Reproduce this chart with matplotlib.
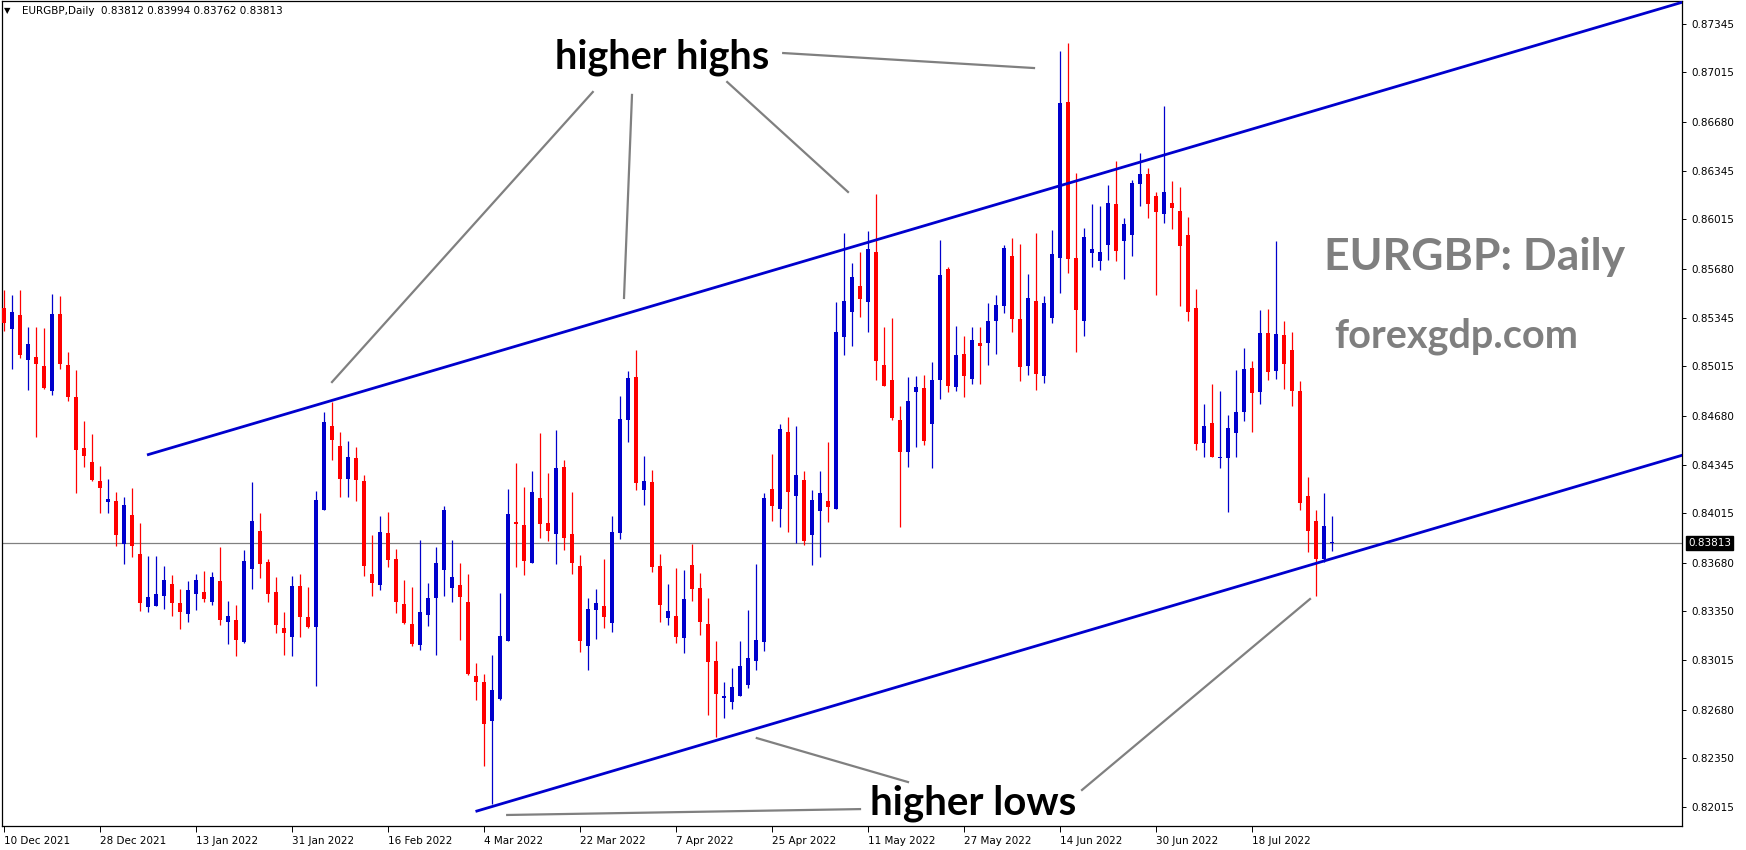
import matplotlib
matplotlib.use("Agg")
import matplotlib.pyplot as plt
import matplotlib.transforms as mtransforms
import numpy as np

# ---------------- data (EURGBP daily) ----------------
opens = [0.85409, 0.85266, 0.85364, 0.85060, 0.85078, 0.85017, 0.84849, 0.85371, 0.85024, 0.84806,
         0.84459, 0.84364, 0.84234, 0.84094, 0.84098, 0.83803, 0.84003, 0.83738, 0.83379, 0.83386,
         0.83454, 0.83534, 0.83404, 0.83332, 0.83468, 0.83479, 0.83413, 0.83554, 0.83277, 0.83289,
         0.83139, 0.83638, 0.83895, 0.83684, 0.83480, 0.83235, 0.83176, 0.83520, 0.83309, 0.83244,
         0.84040, 0.84609, 0.84473, 0.84251, 0.84391, 0.84235, 0.83602, 0.83529, 0.83881, 0.83704,
         0.83398, 0.83262, 0.83121, 0.83325, 0.83441, 0.83632, 0.83509, 0.83527, 0.83411, 0.82908,
         0.82867, 0.82604, 0.82754, 0.83148, 0.83956, 0.83935, 0.83679, 0.84119, 0.83949, 0.83876,
         0.84330, 0.83874, 0.83656, 0.83114, 0.83359, 0.83384, 0.83271, 0.83883, 0.84652, 0.84942,
         0.84176, 0.84228, 0.83656, 0.83305, 0.83318, 0.83169, 0.83663, 0.83508, 0.83263, 0.83010,
         0.82757, 0.82733, 0.82769, 0.82850, 0.83012, 0.83141, 0.84181, 0.84047, 0.84567, 0.84135,
         0.84242, 0.83870, 0.84033, 0.84098, 0.84047, 0.85216, 0.85386, 0.85561, 0.85454, 0.85792,
         0.85024, 0.84922, 0.84650, 0.84434, 0.84842, 0.84867, 0.84624, 0.84924, 0.85677, 0.84876,
         0.85098, 0.84931, 0.85173, 0.85176, 0.85325, 0.85427, 0.85765, 0.85337, 0.85019, 0.85459,
         0.84951, 0.85346, 0.85754, 0.86813, 0.85752, 0.85325, 0.85788, 0.85733, 0.85842, 0.86119,
         0.85869, 0.85910, 0.86257, 0.86323, 0.86174, 0.86053, 0.86126, 0.86071, 0.85908, 0.85411,
         0.84495, 0.84629, 0.84393, 0.84393, 0.84563, 0.84706, 0.85003, 0.84842, 0.85241, 0.84985,
         0.85228, 0.85126, 0.84849, 0.84135, 0.83965, 0.83706, 0.83812]
highs = [0.85534, 0.85500, 0.85534, 0.85282, 0.85282, 0.85273, 0.85507, 0.85493, 0.85112, 0.84990,
         0.84643, 0.84554, 0.84336, 0.84248, 0.84160, 0.84123, 0.84187, 0.83949, 0.83726, 0.83726,
         0.83656, 0.83595, 0.83500, 0.83554, 0.83602, 0.83622, 0.83615, 0.83788, 0.83418, 0.83391,
         0.83765, 0.84228, 0.84017, 0.83704, 0.83582, 0.83344, 0.83588, 0.83602, 0.83514, 0.84167,
         0.84704, 0.84772, 0.84568, 0.84507, 0.84466, 0.84276, 0.83867, 0.83997, 0.84024, 0.83772,
         0.83561, 0.83514, 0.83833, 0.83541, 0.83786, 0.84065, 0.83833, 0.83677, 0.83602, 0.82996,
         0.82921, 0.83051, 0.83473, 0.84180, 0.84357, 0.84194, 0.84303, 0.84561, 0.84289, 0.84582,
         0.84378, 0.84160, 0.83731, 0.83439, 0.83500, 0.83704, 0.83997, 0.84813, 0.84983, 0.85126,
         0.84405, 0.84309, 0.83738, 0.83534, 0.83643, 0.83629, 0.83806, 0.83608, 0.83442, 0.83146,
         0.82867, 0.82964, 0.83146, 0.83357, 0.83671, 0.84154, 0.84419, 0.84623, 0.84669, 0.84609,
         0.84302, 0.84174, 0.84302, 0.84499, 0.85452, 0.85923, 0.85719, 0.85792, 0.85935, 0.86188,
         0.85281, 0.85345, 0.84745, 0.84941, 0.84949, 0.84955, 0.85044, 0.85874, 0.85690, 0.85289,
         0.85221, 0.85282, 0.85282, 0.85445, 0.85500, 0.85840, 0.85888, 0.85847, 0.85643, 0.85922,
         0.85493, 0.85942, 0.87160, 0.87214, 0.86330, 0.85956, 0.86119, 0.86105, 0.86248, 0.86411,
         0.86024, 0.86282, 0.86466, 0.86364, 0.86201, 0.86786, 0.86276, 0.86235, 0.86031, 0.85541,
         0.84758, 0.84894, 0.84849, 0.84683, 0.84990, 0.85139, 0.85051, 0.85398, 0.85407, 0.85870,
         0.85323, 0.85248, 0.84917, 0.84264, 0.84039, 0.84155, 0.83994]
lows = [0.85257, 0.84996, 0.85074, 0.84856, 0.84536, 0.84863, 0.84822, 0.84999, 0.84781, 0.84155,
        0.84332, 0.84237, 0.84019, 0.84019, 0.83794, 0.83672, 0.83720, 0.83352, 0.83345, 0.83386,
        0.83363, 0.83318, 0.83230, 0.83277, 0.83359, 0.83413, 0.83393, 0.83257, 0.83128, 0.83046,
        0.83135, 0.83500, 0.83575, 0.83414, 0.83203, 0.83051, 0.83044, 0.83176, 0.83237, 0.82842,
        0.84040, 0.84380, 0.84128, 0.84128, 0.84101, 0.83591, 0.83454, 0.83495, 0.83652, 0.83339,
        0.83264, 0.83114, 0.83087, 0.83250, 0.83053, 0.83454, 0.83414, 0.83155, 0.82917, 0.82747,
        0.82298, 0.82038, 0.82747, 0.83148, 0.83650, 0.83597, 0.83679, 0.83849, 0.83829, 0.83672,
        0.83767, 0.83604, 0.83073, 0.82951, 0.83162, 0.83237, 0.83210, 0.83842, 0.84502, 0.84176,
        0.84074, 0.83618, 0.83278, 0.83257, 0.83135, 0.83067, 0.83420, 0.83190, 0.82640, 0.82493,
        0.82623, 0.82684, 0.82769, 0.82830, 0.82952, 0.83078, 0.83965, 0.83923, 0.83887, 0.83814,
        0.83797, 0.83666, 0.83717, 0.83957, 0.84047, 0.85094, 0.85155, 0.85352, 0.85247, 0.84924,
        0.84883, 0.84652, 0.83923, 0.84332, 0.84468, 0.84481, 0.84325, 0.84794, 0.84842, 0.84849,
        0.84808, 0.84897, 0.84897, 0.85026, 0.85101, 0.85380, 0.85250, 0.84917, 0.84958, 0.84856,
        0.84903, 0.85312, 0.85516, 0.85652, 0.85114, 0.85223, 0.85693, 0.85672, 0.85740, 0.85733,
        0.85611, 0.85767, 0.86108, 0.86026, 0.85502, 0.85992, 0.85951, 0.85427, 0.85325, 0.84448,
        0.84400, 0.84400, 0.84325, 0.84026, 0.84400, 0.84645, 0.84570, 0.84761, 0.84924, 0.84931,
        0.84863, 0.84747, 0.84039, 0.83754, 0.83454, 0.83686, 0.83762]
closes = [0.85307, 0.85382, 0.85092, 0.85167, 0.85033, 0.84869, 0.85371, 0.85033, 0.84808, 0.84448,
          0.84407, 0.84243, 0.84189, 0.84112, 0.83869, 0.84071, 0.83794, 0.83407, 0.83445, 0.83466,
          0.83561, 0.83407, 0.83345, 0.83493, 0.83561, 0.83434, 0.83581, 0.83291, 0.83316, 0.83155,
          0.83690, 0.83963, 0.83672, 0.83468, 0.83257, 0.83203, 0.83520, 0.83312, 0.83244, 0.84106,
          0.84636, 0.84514, 0.84251, 0.84398, 0.84244, 0.83659, 0.83543, 0.83888, 0.83700, 0.83414,
          0.83271, 0.83128, 0.83344, 0.83439, 0.83677, 0.84037, 0.83582, 0.83448, 0.82924, 0.82869,
          0.82584, 0.82813, 0.83180, 0.84010, 0.83944, 0.83693, 0.84160, 0.83944, 0.83897, 0.84323,
          0.83849, 0.83679, 0.83148, 0.83364, 0.83405, 0.83312, 0.83888, 0.84656, 0.84935, 0.84223,
          0.84235, 0.83652, 0.83393, 0.83350, 0.83175, 0.83432, 0.83502, 0.83277, 0.83005, 0.82789,
          0.82774, 0.82835, 0.82976, 0.83032, 0.83153, 0.84118, 0.84064, 0.84589, 0.84157, 0.84276,
          0.83829, 0.84106, 0.84154, 0.84059, 0.85247, 0.85459, 0.85622, 0.85476, 0.85814, 0.85053,
          0.84883, 0.84664, 0.84429, 0.84779, 0.84871, 0.84509, 0.84921, 0.85636, 0.84883, 0.85092,
          0.84951, 0.85194, 0.85155, 0.85323, 0.85432, 0.85820, 0.85339, 0.85012, 0.85479, 0.84965,
          0.85445, 0.85779, 0.86806, 0.85747, 0.85400, 0.85894, 0.85813, 0.85792, 0.86126, 0.85801,
          0.85983, 0.86262, 0.86323, 0.86121, 0.86067, 0.86201, 0.86094, 0.85836, 0.85387, 0.84488,
          0.84609, 0.84400, 0.84400, 0.84595, 0.84704, 0.84996, 0.84835, 0.85241, 0.84978, 0.85235,
          0.85033, 0.84849, 0.84087, 0.83896, 0.83706, 0.83928, 0.83813]

date_labels = ["10 Dec 2021", "28 Dec 2021", "13 Jan 2022", "31 Jan 2022", "16 Feb 2022",
               "4 Mar 2022", "22 Mar 2022", "7 Apr 2022", "25 Apr 2022", "11 May 2022",
               "27 May 2022", "14 Jun 2022", "30 Jun 2022", "18 Jul 2022"]
date_label_bars = [0, 12, 24, 36, 48, 60, 72, 84, 96, 108, 120, 132, 144, 156]

price_ticks = [0.87345, 0.87015, 0.86680, 0.86345, 0.86015, 0.85680, 0.85345, 0.85015, 0.84680,
               0.84345, 0.84015, 0.83680, 0.83350, 0.83015, 0.82680, 0.82350, 0.82015]
price_tick_labels = ["0.87345", "0.87015", "0.86680", "0.86345", "0.86015", "0.85680", "0.85345",
                     "0.85015", "0.84680", "0.84345", "0.84015", "0.83680", "0.83350", "0.83015",
                     "0.82680", "0.82350", "0.82015"]

last_price = 0.83813
header = "EURGBP,Daily  0.83812 0.83994 0.83762 0.83813"

# trend channel anchors (bar index, price)
upper_channel = [(17.875, 0.84412), (142.625, 0.86414)]
lower_channel = [(58.94, 0.81987), (168.25, 0.83743)]

# ---------------- figure ----------------
W, H = 1746, 850
fig = plt.figure(figsize=(W / 100, H / 100), dpi=100)
fig.patch.set_facecolor("white")
ax = fig.add_axes([2 / W, 24 / H, 1680 / W, 825 / H])
ax.set_facecolor("white")

o = np.array(opens); h = np.array(highs); l = np.array(lows); c = np.array(closes)
x = np.arange(len(o))
bull = c >= o
cols = np.where(bull, "#0000CC", "#FF0000")

px = 1 / 14700.0
ax.vlines(x, l, h, colors=cols, linewidth=0.9, zorder=3)
bottoms = np.minimum(o, c)
heights = np.maximum(np.abs(c - o), px)
ax.bar(x, heights, bottom=bottoms, width=0.62, color=cols, edgecolor="none", zorder=4)

ax.set_xlim(-0.25, 209.75)
ax.set_ylim(0.81888, 0.87500)

# current price line
ax.axhline(last_price, color="#808080", linewidth=0.9, zorder=2)

# channel lines (rays extended to the right)
def ray(p0, p1, xend=230):
    (x0, y0), (x1, y1) = p0, p1
    s = (y1 - y0) / (x1 - x0)
    return [x0, xend], [y0, y0 + s * (xend - x0)]

for ch in (upper_channel, lower_channel):
    xs, ys = ray(*ch)
    ax.plot(xs, ys, color="#0000CD", linewidth=2.0, zorder=5, solid_capstyle="butt")

# annotation connector lines
gray = "#808080"
connectors = [
    [(73.6, 0.86881), (41.0, 0.84908)],
    [(78.5, 0.86861), (77.5, 0.85480)],
    [(90.4, 0.86949), (105.5, 0.86201)],
    [(97.4, 0.87146), (128.75, 0.87044)],
    [(113.0, 0.82187), (94.1, 0.82486)],
    [(107.0, 0.82003), (62.9, 0.81963)],
    [(134.75, 0.82133), (163.25, 0.83432)],
]
for (a, b) in connectors:
    ax.plot([a[0], b[0]], [a[1], b[1]], color=gray, linewidth=1.6, zorder=6)

ax.text(68.9, 0.87042, "higher highs", fontsize=28.5, fontweight="bold", family="Lato",
        color="black", ha="left", va="baseline", zorder=7)
ax.text(108.3, 0.81969, "higher lows", fontsize=29, fontweight="bold", family="Lato",
        color="black", ha="left", va="baseline", zorder=7)
ax.text(165.0, 0.85670, "EURGBP: Daily", fontsize=32, fontweight="bold", family="Lato",
        color="#7f7f7f", ha="left", va="baseline", zorder=7)
ax.text(166.25, 0.85140, "forexgdp.com", fontsize=28.5, fontweight="bold", family="Lato",
        color="#7f7f7f", ha="left", va="baseline", zorder=7)

# axes styling
for sp in ax.spines.values():
    sp.set_color("black")
    sp.set_linewidth(0.9)

ax.yaxis.tick_right()
ax.set_yticks(price_ticks)
ax.set_yticklabels(price_tick_labels)
ax.tick_params(axis="y", direction="out", length=3, width=0.7, pad=4, labelsize=7.5,
               colors="black", right=True, left=False)

ax.set_xticks(date_label_bars)
ax.set_xticklabels(date_labels)
ax.tick_params(axis="x", direction="out", length=4, width=0.7, pad=3, labelsize=7.5,
               colors="black")
for lbl in ax.get_xticklabels():
    lbl.set_horizontalalignment("left")

# current price tag
trans = mtransforms.blended_transform_factory(ax.transAxes, ax.transData)
ax.text(1 + 6 / 1680, last_price, "%.5f" % last_price, transform=trans, ha="left", va="center",
        fontsize=7.5, color="white", zorder=10, clip_on=False,
        bbox=dict(boxstyle="square,pad=0.2", facecolor="black", edgecolor="black"))

# header
fig.text(4 / W, 1 - 11 / H, "\u25BC", fontsize=6, color="black", ha="left", va="center")
fig.text(22 / W, 1 - 11 / H, header, fontsize=7.5, color="black", ha="left", va="center")

fig.savefig("out.png", dpi=100, facecolor="white")
